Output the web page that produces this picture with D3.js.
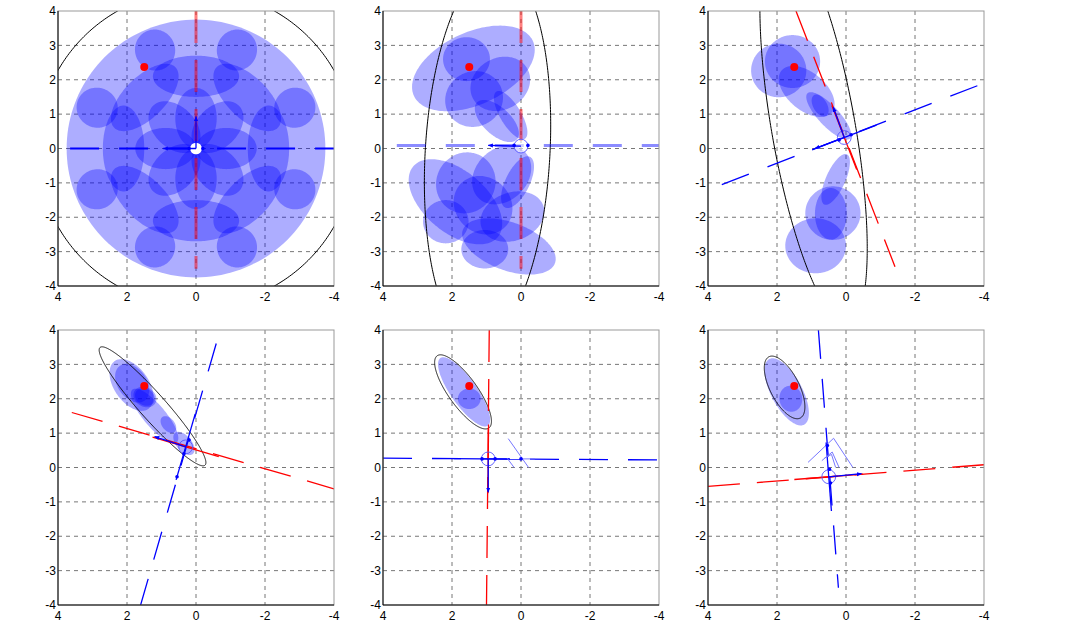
<!DOCTYPE html>
<html><head><meta charset="utf-8">
<script src="https://cdn.jsdelivr.net/npm/d3@7"></script>
<style>
body{margin:0;background:#fff}
svg{display:block}
text{font-family:"Liberation Sans",Arial,Helvetica,sans-serif;font-size:12px;fill:#000}
</style>
</head><body>
<svg id="c" width="1067" height="623"></svg>
<script>
// ---------- data ----------
const xTicks=[4,2,0,-2,-4];
const yTicks=[4,3,2,1,0,-1,-2,-3,-4];
const xGrid=[2,0,-2];
const yGrid=[3,2,1,0,-1,-2,-3];
const redDot=[1.5,2.37];

// panel 1: rings of ellipses [ring radius, radial semi, tangential semi]
const p1Disc=[0,0,3.75,3.75,0];
const p1InnerAngles=[0,45,90,135,180,225,270,315];
const p1Inner=[0.88,0.88,0.6];
const p1MiddleAngles=[0,45,90,135,180,225,270,315];
const p1Middle=[2.1,0.6,1.25];
const p1OuterAngles=[22.5,67.5,112.5,157.5,202.5,247.5,292.5,337.5];
const p1Outer=[3.1,0.6,0.58];
const p1Curve=[0,0,4.6,4.6,0,0];

// ellipses [cx, cy, semi-major, semi-minor, angle(deg), shear]
const p2Blobs=[[1.38,2.33,1.9,1.05,-25],[1.58,2.6,0.68,0.64,0],[0.6,1.88,0.9,0.75,-30],[1.36,1.44,0.85,0.8,-30],
  [0.7,0.8,0.79,0.4,43],[0.3,0.97,0.8,0.3,59],
  [1.9,-1.55,1.6,0.9,40],[1.6,-1.0,0.9,0.85,120],[0.56,-0.77,0.95,0.75,135],[0.1,-0.98,0.82,0.35,116],
  [1.1,-1.65,0.9,0.8,45],[0.25,-1.98,0.95,0.7,160],[2.18,-2.13,0.66,0.63,0],[1.05,-2.93,0.68,0.56,0],[0.35,-2.85,1.42,0.7,20]];
const p2Curve=[0.97,-0.15,1.81,5.5,0,-0.05];

const p3Blobs=[[1.95,2.27,0.8,0.78,0],[1.55,2.53,0.8,0.77,0],[1.14,1.66,0.95,0.55,40],[0.5,0.95,0.9,0.3,47],[0.75,1.25,0.35,0.2,60],
  [0.3,-0.9,0.8,0.28,114],[0.38,-1.88,0.8,0.78,0],[0.44,-1.9,0.75,0.46,90],[0.88,-2.83,0.88,0.8,0]];
const p3Curve=[0.94,0.58,1.23,5.7,0,0.167];

const p4Blobs=[[1.87,2.4,0.85,0.5,55],[1.85,2.45,0.62,0.42,55],[1.48,2.05,0.35,0.28,30],[1.48,2.05,0.3,0.24,30],
  [1.2,1.5,1.0,0.32,50],[0.8,1.25,0.28,0.18,50],[0.35,0.7,0.4,0.22,50]];
const p4Curve=[1.26,1.78,2.29,0.38,48.4,0];

const p5Blobs=[[1.65,2.2,1.2,0.38,55],[1.5,2.0,0.33,0.3,0]];
const p5Curve=[1.68,2.2,1.29,0.42,54.5,0];

const p6Blobs=[[1.72,2.2,1.08,0.45,62],[1.6,2.0,0.38,0.33,80]];
const p6Curve=[1.78,2.33,1.0,0.42,63,0];

// line endpoints [x1,y1,x2,y2]
const redLines=[[0,4,0,-3.5],[0,4,0,-3.5],[1.45,4,-1.42,-3.44],[3.6,1.6,-4,-0.62],[0.92,4,1.0,-4],[4,-0.55,-4,0.08]];
const blueLines=[[3.65,0,-4,0],[3.6,0.09,-4,0.09],[3.6,-1.05,-4,1.9],[1.62,-4.05,-0.7,4],[4,0.27,-4,0.22],[0.8,4,0.22,-3.5]];
const centers=[[0,0],[0,0.07],[0.05,0.32],[0.3,0.6],[0.95,0.25],[0.5,-0.27]];
const arrows=[[[0.95,0],[0,0.93]],[[0.95,0.09]],[[0.9,0.0],[0.37,1.2]],[[1.2,0.9]],[[0.95,-0.72]],[[-0.45,-0.18]]];
const dotsP=[[[0.2,0],[-0.2,0]],[[0.2,0.09],[-0.2,0.09]],[[-0.15,0.4],[0.2,0.25]],[[0.2,0.8],[0.35,0.4],[0.55,-0.27]],[[1.13,0.25],[0.75,0.25],[0.0,0.25]],[[0.54,0.64],[0.48,-0.05],[0.45,-0.45]]];
const thinLines=[[],[],[],[],
  [[[0.37,0.84],[-0.22,0.0]],[[0.4,0.27],[0.2,0.0]],[[0.0,0.25],[-0.4,0.25]]],
  [[[1.1,0.15],[0.36,0.85],[-0.2,0.0]],[[0.7,0.2],[0.4,0.45],[0.2,0.0]],[[0.62,0.28],[0.42,0.38],[0.3,0.0]]]];

// ---------- drawing ----------
const W=276,H=275;
const origins=[[58,11],[383,11],[708,11],[58,330],[383,330],[708,330]];
const svg=d3.select('#c');
const defs=svg.append('defs');
defs.append('marker').attr('id','ah').attr('viewBox','0 0 10 10').attr('refX',9).attr('refY',5)
  .attr('markerWidth',4).attr('markerHeight',4).attr('orient','auto')
  .append('path').attr('d','M0,1L10,5L0,9Z').attr('fill','#0000ff');

function ellPts(e,n=160){
  const [cx,cy,a,b,th,sh=0]=e; const t=th*Math.PI/180;
  return d3.range(n+1).map(k=>{const s=2*Math.PI*k/n;const u=a*Math.cos(s),v=b*Math.sin(s);
    const yy=cy+u*Math.sin(t)+v*Math.cos(t);const xx=cx+u*Math.cos(t)-v*Math.sin(t)+sh*(yy-cy);return [xx,yy];});
}
function ring(angles,spec){
  return angles.map(a=>{const r=a*Math.PI/180;return [spec[0]*Math.cos(r),spec[0]*Math.sin(r),spec[1],spec[2],a];});
}
const p1Blobs=[p1Disc].concat(ring(p1InnerAngles,p1Inner),ring(p1MiddleAngles,p1Middle),ring(p1OuterAngles,p1Outer));
const blobs=[p1Blobs,p2Blobs,p3Blobs,p4Blobs,p5Blobs,p6Blobs];
const curves=[p1Curve,p2Curve,p3Curve,p4Curve,p5Curve,p6Curve];

origins.forEach((o,i)=>{
  const [ox,oy]=o;
  const x=d3.scaleLinear().domain([4,-4]).range([ox,ox+W]);
  const y=d3.scaleLinear().domain([-4,4]).range([oy+H,oy]);
  const line=d3.line().x(d=>x(d[0])).y(d=>y(d[1]));
  defs.append('clipPath').attr('id','cp'+i).append('rect').attr('x',ox).attr('y',oy).attr('width',W).attr('height',H);
  const g=svg.append('g');
  const gc=g.append('g').attr('clip-path',`url(#cp${i})`);
  // grid
  gc.selectAll('.gx').data(xGrid).join('line').attr('x1',d=>x(d)).attr('x2',d=>x(d)).attr('y1',oy).attr('y2',oy+H)
    .attr('stroke','#777').attr('stroke-dasharray','4,4');
  gc.selectAll('.gy').data(yGrid).join('line').attr('y1',d=>y(d)).attr('y2',d=>y(d)).attr('x1',ox).attr('x2',ox+W)
    .attr('stroke','#777').attr('stroke-dasharray','4,4');
  // blobs
  gc.selectAll('.bl').data(blobs[i]).join('path').attr('d',d=>line(ellPts(d))+'Z')
    .attr('fill','#0000ff').attr('fill-opacity',0.32);
  // black curve
  gc.append('path').attr('d',line(ellPts(curves[i],400))).attr('fill','none').attr('stroke','#000').attr('stroke-width',i<3?1:0.9);
  // lines
  const faint=i<2;
  const rl=redLines[i], bl=blueLines[i], c=centers[i];
  gc.append('path').attr('d',line([[rl[0],rl[1]],[rl[2],rl[3]]])).attr('fill','none')
    .attr('stroke','#ff0000').attr('stroke-opacity',faint?0.5:1).attr('stroke-width',faint?3:1.3).attr('stroke-dasharray','32,17');
  gc.append('path').attr('d',line([[bl[0],bl[1]],[bl[2],bl[3]]])).attr('fill','none')
    .attr('stroke','#0000ff').attr('stroke-opacity',i==1?0.45:1).attr('stroke-width',i==1?3:(i==0?2:1.3)).attr('stroke-dasharray','29,20');
  if(!faint){
    // solid sections of the axes through the centre
    [rl,bl].forEach((l,k)=>{
      const dx=l[2]-l[0],dy=l[3]-l[1],L=Math.hypot(dx,dy),s=1.0;
      gc.append('path').attr('d',line([[c[0]-dx/L*s,c[1]-dy/L*s],[c[0]+dx/L*s,c[1]+dy/L*s]]))
        .attr('stroke',k==0?'#ff0000':'#0000ff').attr('stroke-width',1.3).attr('fill','none');
    });
  }
  // thin light lines
  gc.selectAll('.tl').data(thinLines[i]).join('path').attr('d',d=>line(d)).attr('fill','none')
    .attr('stroke','#7777ff').attr('stroke-width',1);
  // centre circle
  gc.append('circle').attr('cx',x(c[0])).attr('cy',y(c[1])).attr('r',x(0)-x(i==0?0.17:0.2))
    .attr('fill',i==0?'#fff':(i==1?'rgba(255,255,255,0.55)':'none')).attr('stroke',i==0?'none':'#5555ff').attr('stroke-width',0.9);
  // arrows
  gc.selectAll('.ar').data(arrows[i]).join('path').attr('d',d=>line([c,d])).attr('stroke','#0000ff')
    .attr('stroke-width',1.3).attr('fill','none').attr('marker-end','url(#ah)');
  gc.selectAll('.dt').data(dotsP[i]).join('circle').attr('cx',d=>x(d[0])).attr('cy',d=>y(d[1])).attr('r',1.8).attr('fill','#0000ff');
  // red dot
  gc.append('circle').attr('cx',x(redDot[0])).attr('cy',y(redDot[1])).attr('r',4).attr('fill','#ff0000');
  // frame
  g.append('rect').attr('x',ox).attr('y',oy).attr('width',W).attr('height',H).attr('fill','none').attr('stroke','#999');
  g.append('line').attr('x1',ox).attr('x2',ox).attr('y1',oy).attr('y2',oy+H).attr('stroke','#000');
  g.append('line').attr('x1',ox).attr('x2',ox+W).attr('y1',oy+H).attr('y2',oy+H).attr('stroke','#000');
  // tick labels
  g.selectAll('.xl').data(xTicks).join('text').attr('x',d=>x(d)).attr('y',oy+H+14.5).attr('text-anchor','middle').text(d=>d);
  g.selectAll('.yl').data(yTicks).join('text').attr('x',ox-2).attr('y',d=>y(d)).attr('dy','0.35em').attr('text-anchor','end').text(d=>d);
});
</script>
</body></html>
